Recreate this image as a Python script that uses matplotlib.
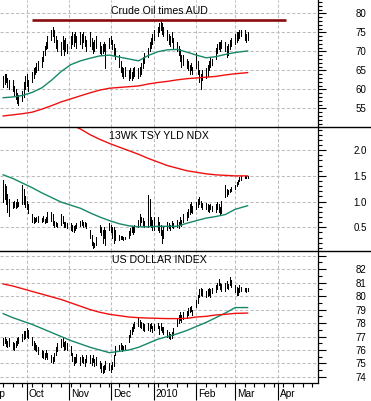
import numpy as np
import pandas as pd
import matplotlib
matplotlib.use("Agg")
import matplotlib.pyplot as plt
import matplotlib.dates as mdates
import matplotlib.transforms as mtransforms
from matplotlib.lines import Line2D
from matplotlib.ticker import MultipleLocator, FuncFormatter

plt.rcParams['font.family'] = ['Liberation Sans', 'DejaVu Sans']

# trading days shown on the chart
days = pd.bdate_range("2009-09-14", "2010-03-10")
# moving averages read at each Monday plus the last bar
ma_dates = list(pd.date_range("2009-09-14", "2010-03-01", freq="W-MON")) + [pd.Timestamp("2010-03-10")]

# --- Crude Oil times AUD (daily low / high) ---
oil_lo = [60.5, 61.5, 62, 60.5, 60,   59.5, 58.5, 57.5, 56.5, 56,   57, 58, 60, 61, 59.5,
          62, 63, 64, 64.5, 65,       66, 67.5, 69, 70.5, 71,       73, 74, 72.5, 71, 70,
          69, 70.5, 69, 70, 69.5,     71, 72, 71.5, 72.5, 71,       72, 71, 72.5, 71.5, 70,
          71.5, 70.5, 69.5, 70, 71,   69.5, 69, 69.5, 70, 65.5,     71, 72, 70.5, 69, 68,
          66, 64.5, 63.5, 63, 63.5,   62.5, 63, 62.5, 63, 63.5,     63, 63.5, 64, 65.5, 67,
          68.5, 70, 71, 72, 73,       74, 75, 75.5, 74.5, 74,       73, 72, 71.5, 72.5, 71,
          70, 69, 67.5, 66, 66.5,     65.5, 65, 64, 65, 64,         65.5, 64, 62, 60, 62.5,
          63, 63.5, 65, 66, 66.5,     68, 69.5, 70.5, 70, 71,       70, 68.5, 69, 70.5, 71.5,
          72, 72.5, 73, 73.5, 74,     73, 72.5, 73]
oil_hi = [63.5, 64, 64, 63, 62.5,     62.5, 61, 60, 59, 58.5,       59.5, 62, 63.5, 64, 62.5,
          64.5, 65.5, 66, 67, 67.5,   68.5, 70, 71.5, 72.5, 74,     75.5, 76.5, 75.5, 74, 73,
          72.5, 74, 73, 73.5, 72,     74, 75, 74.5, 75, 74,         75, 74.5, 75, 74, 73,
          75, 73.5, 72.5, 73, 74,     72.5, 71.5, 72, 72.5, 72,     73.5, 74, 73, 72, 71,
          69, 67.5, 66, 65.5, 66,     65, 65.5, 64.5, 65.5, 66,     65.5, 66, 67, 68.5, 69.5,
          71, 72.5, 73.5, 74.5, 75.5, 76.5, 77.5, 78, 77.5, 76.5,   75.5, 74.5, 74, 75, 73.5,
          72.5, 71.5, 70.5, 69, 69,   68, 67.5, 66.5, 67, 66,       69.5, 67.5, 65, 64, 65,
          65.5, 66.5, 67.5, 68.5, 68, 71, 72, 72.5, 72.5, 73,       72.5, 71.5, 72, 73, 73.5,
          74.5, 75, 75, 75.5, 75.5,   75.5, 74.5, 75]
oil_ma50 = [57.8, 58.0, 58.4, 59.2, 60.4, 62.4, 64.7, 66.5, 67.5, 68.2, 68.8, 69.0, 68.5,
            68.0, 67.5, 68.9, 69.9, 70.4, 70.5, 69.8, 69.0, 68.3, 68.6, 69.2, 69.7, 70.1]
oil_ma200 = [53.0, 53.3, 53.6, 54.0, 54.8, 55.7, 56.7, 57.5, 58.3, 59.1, 59.8, 60.3, 60.5,
             60.7, 60.9, 61.4, 61.8, 62.1, 62.5, 62.8, 63.0, 63.2, 63.4, 63.8, 64.1, 64.4]
oil_level = 78.2
oil_level_span = ["2009-10-05", "2010-04-07"]

# --- 13WK TSY YLD NDX ---
tsy_lo = [1.0, 1.05, 0.95, 0.8, 0.72,   0.88, 0.9, 0.88, 0.9, 0.92,   0.95, 0.95, 0.9, 0.85, 0.78,
          0.6, 0.58, 0.6, 0.62, 0.6,    0.6, 0.62, 0.58, 0.6, 0.6,    0.62, 0.55, 0.5, 0.52, 0.5,
          0.55, 0.58, 0.5, 0.5, 0.48,   0.45, 0.42, 0.4, 0.45, 0.48,  0.52, 0.55, 0.5, 0.52, 0.48,
          0.3, 0.15, 0.1, 0.12, 0.15,   0.4, 0.35, 0.2, 0.3, 0.15,    0.45, 0.4, 0.3, 0.2, 0.25,
          0.25, 0.27, 0.28, 0.26, 0.27, 0.3, 0.35, 0.4, 0.38, 0.4,    0.5, 0.55, 0.6, 0.55, 0.5,
          0.5, 0.55, 0.5, 0.45, 0.45,   0.45, 0.4, 0.35, 0.2, 0.3,    0.45, 0.48, 0.45, 0.5, 0.48,
          0.5, 0.48, 0.55, 0.52, 0.6,   0.65, 0.7, 0.75, 0.8, 0.78,   0.85, 0.9, 0.95, 0.9, 0.85,
          0.85, 0.82, 0.8, 0.85, 0.82,  0.8, 0.85, 0.8, 0.75, 0.78,   1.08, 1.1, 1.15, 1.18, 1.2,
          1.25, 1.3, 1.35, 1.4, 1.42,   1.45, 1.45, 1.46]
tsy_hi = [1.42, 1.35, 1.3, 1.15, 1.05,  1.0, 1.02, 1.0, 1.05, 1.0,    1.32, 1.25, 1.1, 1.02, 0.95,
          0.75, 0.7, 0.68, 0.7, 0.72,   0.68, 0.72, 0.66, 0.7, 0.8,   0.8, 0.75, 0.62, 0.6, 0.58,
          0.75, 0.72, 0.6, 0.6, 0.58,   0.58, 0.55, 0.52, 0.55, 0.58, 0.62, 0.65, 0.6, 0.6, 0.58,
          0.45, 0.35, 0.22, 0.2, 0.32,  0.55, 0.5, 0.45, 0.5, 0.45,   0.58, 0.55, 0.5, 0.5, 0.45,
          0.35, 0.33, 0.33, 0.31, 0.32, 0.42, 0.48, 0.52, 0.5, 0.55,  0.65, 0.75, 0.7, 0.68, 0.62,
          1.12, 1.05, 0.7, 0.65, 0.7,   0.7, 0.6, 0.55, 0.45, 0.5,    0.6, 0.58, 0.55, 0.62, 0.58,
          0.65, 0.6, 0.7, 0.65, 0.75,   0.8, 0.85, 0.95, 1.0, 0.92,   1.0, 1.05, 1.08, 1.02, 0.98,
          0.98, 0.95, 0.93, 0.95, 0.92, 0.95, 1.0, 0.95, 0.9, 1.02,   1.32, 1.25, 1.22, 1.25, 1.28,
          1.32, 1.38, 1.42, 1.48, 1.5,  1.5, 1.49, 1.5]
tsy_ma50 = [1.52, 1.45, 1.36, 1.27, 1.17, 1.08, 0.99, 0.93, 0.87, 0.78, 0.70, 0.63, 0.57,
            0.53, 0.51, 0.51, 0.52, 0.52, 0.52, 0.58, 0.63, 0.68, 0.71, 0.75, 0.85, 0.92]
tsy_ma200 = [3.3, 3.15, 3.0, 2.88, 2.75, 2.64, 2.53, 2.5, 2.41, 2.3, 2.21, 2.13, 2.06,
             1.99, 1.92, 1.84, 1.77, 1.70, 1.65, 1.60, 1.57, 1.54, 1.52, 1.51, 1.50, 1.50]

# --- US DOLLAR INDEX ---
usd_lo = [76.4, 76.5, 76.3, 76.2, 76.3,  76.1, 76.0, 76.2, 76.4, 76.5,  76.7, 76.8, 76.9, 77.0, 76.9,
          76.4, 76.1, 76.0, 75.9, 75.7,  75.5, 75.4, 75.3, 75.5, 75.3,  75.1, 75.0, 75.2, 75.6, 75.9,
          76.2, 76.3, 76.0, 76.1, 76.0,  75.6, 75.2, 74.9, 75.0, 75.1,  74.9, 75.1, 75.0, 74.8, 75.1,
          75.0, 74.9, 75.1, 74.8, 74.9,  74.7, 74.4, 74.3, 74.4, 74.6,  74.5, 74.4, 74.6, 74.8, 75.6,
          76.0, 76.1, 75.9, 76.0, 76.1,  76.6, 77.0, 77.2, 77.4, 77.6,  77.8, 77.7, 77.6, 77.5, 77.4,
          77.5, 77.4, 77.6, 77.3, 77.5,  77.6, 77.2, 77.5, 77.3, 77.2,  77.0, 76.9, 76.8, 76.9, 77.1,
          77.8, 78.0, 78.2, 78.1, 78.3,  78.4, 78.6, 78.8, 78.9, 78.6,  79.2, 79.5, 79.9, 80.1, 80.0,
          79.9, 80.0, 80.1, 79.9, 80.2,  80.3, 80.5, 80.8, 80.5, 80.4,  80.4, 80.6, 80.5, 80.8, 80.7,
          80.3, 80.1, 80.1, 80.3, 80.4,  80.4, 80.3, 80.4]
usd_hi = [76.9, 77.0, 76.8, 76.7, 76.9,  76.6, 76.5, 76.7, 76.9, 77.0,  77.2, 77.4, 77.4, 77.6, 77.5,
          77.0, 76.7, 76.5, 76.4, 76.2,  76.0, 75.9, 75.8, 76.0, 75.8,  75.6, 75.5, 75.8, 76.2, 76.5,
          76.8, 76.9, 76.6, 76.7, 76.5,  76.3, 75.8, 75.5, 75.5, 75.7,  75.5, 75.6, 75.5, 75.3, 75.6,
          75.6, 75.4, 75.6, 75.3, 75.5,  75.2, 75.0, 74.8, 74.9, 75.2,  75.0, 74.9, 75.1, 75.6, 76.3,
          76.4, 76.5, 76.4, 76.3, 76.4,  77.1, 77.5, 77.7, 77.9, 78.1,  78.35, 78.2, 78.1, 78.0, 77.9,
          78.0, 77.9, 78.0, 77.8, 77.9,  78.0, 77.8, 78.0, 77.7, 77.7,  77.5, 77.3, 77.2, 77.3, 77.6,
          78.4, 78.6, 78.8, 78.6, 78.8,  78.9, 79.1, 79.2, 79.3, 79.0,  79.7, 80.1, 80.5, 80.6, 80.5,
          80.4, 80.5, 80.6, 80.5, 80.6,  80.8, 81.0, 81.3, 81.0, 80.9,  81.0, 81.1, 80.9, 81.4, 81.2,
          80.8, 80.7, 80.6, 80.8, 80.7,  80.6, 80.6, 80.6]
usd_ma50 = [78.7, 78.4, 78.15, 77.9, 77.6, 77.3, 77.0, 76.7, 76.45, 76.2, 76.0, 75.8, 75.9,
            76.0, 76.2, 76.5, 76.8, 77.0, 77.2, 77.45, 77.75, 78.05, 78.4, 78.75, 79.15, 79.15]
usd_ma200 = [80.9, 80.75, 80.55, 80.35, 80.15, 79.95, 79.75, 79.5, 79.25, 79.0, 78.8, 78.65, 78.55,
             78.45, 78.4, 78.37, 78.35, 78.33, 78.33, 78.35, 78.45, 78.5, 78.6, 78.65, 78.72, 78.74]

panels = [
    ("Crude Oil times AUD", oil_lo, oil_hi, oil_ma50, oil_ma200, (50.1, 83.5), 5, 1, "%d"),
    ("13WK TSY YLD NDX", tsy_lo, tsy_hi, tsy_ma50, tsy_ma200, (0.04, 2.45), 0.5, 0.1, "%.1f"),
    ("US DOLLAR INDEX", usd_lo, usd_hi, usd_ma50, usd_ma200, (73.55, 83.35), 1, 0.5, "%d"),
]

W, H = 371, 401
fig = plt.figure(figsize=(W / 100, H / 100), dpi=100)
bounds = [(0, 127), (127, 251), (251, 383)]  # pixel rows of each panel
right = 318 / W
green = "#17876a"
red = "#f01010"
grid_kw = dict(color="#bdbdbd", linestyle=(0, (3, 2)), linewidth=0.75)

axes = []
for i, (title, lo, hi, m50, m200, ylim, major, minor, fmt) in enumerate(panels):
    top, bot = bounds[i]
    ax = fig.add_axes([0, 1 - bot / H, right, (bot - top) / H],
                      sharex=axes[0] if axes else None)
    axes.append(ax)
    ax.vlines(days, lo, hi, color="black", linewidth=0.72, antialiased=False)
    ax.plot(ma_dates, m50, color=green, linewidth=1.0)
    ax.plot(ma_dates, m200, color=red, linewidth=1.0)
    ax.set_ylim(*ylim)
    ax.yaxis.tick_right()
    ax.yaxis.set_major_locator(MultipleLocator(major))
    ax.yaxis.set_minor_locator(MultipleLocator(minor))
    if i == 2:
        ax.yaxis.set_major_formatter(FuncFormatter(lambda v, p: "" if v > 82.5 else "%d" % v))
    else:
        ax.yaxis.set_major_formatter(FuncFormatter(lambda v, p, f=fmt: f % v))
    ax.tick_params(axis="y", which="major", direction="out", length=6, width=0.8,
                   pad=29, labelsize=7)
    ax.tick_params(axis="y", which="minor", direction="out", length=3, width=0.8)
    for t in ax.yaxis.get_major_ticks():
        t.label2.set_horizontalalignment("right")
    ax.grid(True, which="major", **grid_kw)
    for s in ("left", "top"):
        ax.spines[s].set_visible(False)
    ax.spines["right"].set_linewidth(0.9)
    if i < 2:
        ax.spines["bottom"].set_visible(False)
    ax.text(0.5, 1 - (11.5 if i == 0 else 9) / (bot - top), title, transform=ax.transAxes,
            ha="center", va="center", fontsize=7.6)

# resistance level on the top panel
axes[0].plot(pd.to_datetime(oil_level_span), [oil_level, oil_level], color="#8a0d0d",
             linewidth=1.9, solid_capstyle="butt")

ax = axes[2]
ax.set_xlim(pd.Timestamp("2009-09-11 17:00"), pd.Timestamp("2010-04-30"))
ax.xaxis.set_major_locator(mdates.MonthLocator())
ax.xaxis.set_minor_locator(mdates.WeekdayLocator(byweekday=mdates.MO))
ax.spines["bottom"].set_linewidth(0.9)
for a in axes[:2]:
    a.tick_params(axis="x", which="both", length=0, labelbottom=False)
ax.tick_params(axis="x", which="major", direction="out", length=12, width=0.8, labelbottom=False)
ax.tick_params(axis="x", which="minor", direction="out", length=3, width=0.8)

# month names sit just right of each month tick (Sep runs off the left edge)
months = pd.date_range("2009-09-01", "2010-04-01", freq="MS")
base = mtransforms.blended_transform_factory(ax.transData, ax.transAxes)
lab_tr = mtransforms.offset_copy(base, fig=fig, x=2, y=-11, units="dots")
for m in months:
    name = m.strftime("%Y") if m.month == 1 else m.strftime("%b")
    ax.text(mdates.date2num(m), 0, name, transform=lab_tr, ha="left", va="center",
            fontsize=7.3, clip_on=False)

# separators between panels run across the full width
for y in (127, 251):
    fig.add_artist(Line2D([0, 1], [1 - y / H, 1 - y / H], transform=fig.transFigure,
                          color="black", linewidth=1.0))

fig.savefig("out.png", dpi=100)
